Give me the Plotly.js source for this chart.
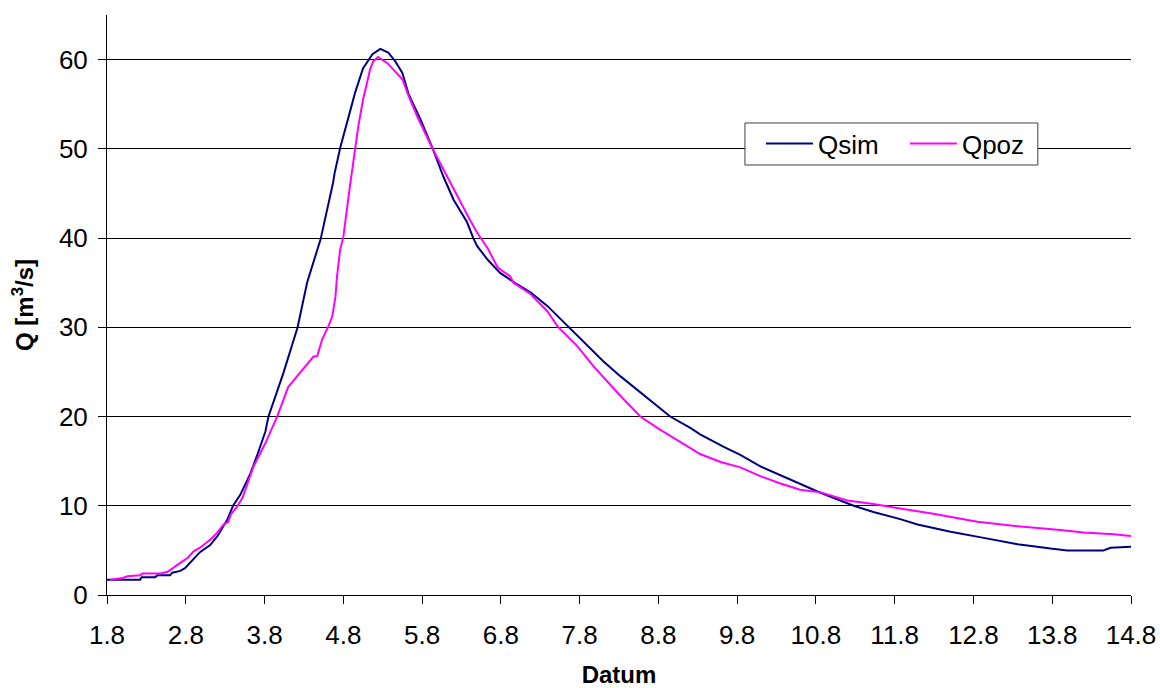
<!DOCTYPE html>
<html>
<head>
<meta charset="utf-8">
<script src="https://cdn.plot.ly/plotly-3.0.1.min.js"></script>
<style>html,body{margin:0;padding:0;background:#fff;}#chart{width:1160px;height:688px;}</style>
</head>
<body>
<div id="chart"></div>
<script>
// x: day of August (1 = "1.8"), Q in m3/s
var tickDays = [1,2,3,4,5,6,7,8,9,10,11,12,13,14];
var tickLabels = ["1.8","2.8","3.8","4.8","5.8","6.8","7.8","8.8","9.8","10.8","11.8","12.8","13.8","14.8"];
var yTicks = [0,10,20,30,40,50,60];

var simDays = [1.00,1.42,1.44,1.61,1.64,1.80,1.83,1.93,1.99,2.10,2.18,2.31,2.41,2.53,2.60,2.69,2.82,2.92,3.01,3.05,3.24,3.42,3.48,3.54,3.67,3.71,3.87,3.89,3.96,4.05,4.15,4.25,4.37,4.47,4.57,4.66,4.75,4.83,4.98,5.14,5.27,5.40,5.57,5.65,5.70,5.83,5.99,6.21,6.38,6.59,6.85,7.05,7.30,7.52,7.73,7.99,8.15,8.41,8.53,8.83,9.04,9.30,9.55,9.80,10.02,10.22,10.48,10.73,10.86,11.07,11.29,11.71,12.13,12.56,12.98,13.19,13.65,13.74,14.00];
var simQ = [1.7,1.7,2.0,2.0,2.2,2.2,2.5,2.7,3.0,4.0,4.8,5.6,6.7,8.5,10.0,11.2,13.6,16.0,18.3,20.0,24.9,30.0,32.7,35.0,38.7,39.8,46.2,47.3,50.1,53.1,56.3,59.0,60.6,61.2,60.8,59.8,58.5,56.1,53.3,49.9,46.9,44.3,41.8,40.0,39.1,37.6,36.1,34.8,33.9,32.4,30.1,28.3,26.2,24.5,23.0,21.1,20.0,18.7,18.0,16.6,15.7,14.4,13.4,12.4,11.6,10.9,10.0,9.3,9.0,8.5,7.9,7.1,6.4,5.7,5.2,5.0,5.0,5.3,5.4];

var pozDays = [1.04,1.20,1.26,1.42,1.45,1.68,1.77,1.84,1.93,2.03,2.10,2.18,2.31,2.41,2.48,2.54,2.57,2.65,2.72,2.86,3.01,3.16,3.30,3.43,3.54,3.62,3.67,3.73,3.81,3.86,3.90,3.92,3.96,4.00,4.09,4.15,4.19,4.25,4.34,4.38,4.44,4.56,4.75,4.83,4.94,5.14,5.32,5.49,5.61,5.70,5.83,5.96,6.12,6.16,6.38,6.59,6.72,6.97,7.18,7.52,7.77,7.99,8.53,8.79,9.04,9.30,9.55,9.80,10.06,10.40,10.73,11.07,11.49,12.05,12.56,13.07,13.40,13.78,14.00];
var pozQ = [1.7,1.9,2.1,2.2,2.4,2.4,2.6,3.0,3.6,4.2,4.9,5.3,6.2,7.1,7.9,8.2,9.0,9.9,10.9,14.4,17.0,20.0,23.3,24.7,25.8,26.7,26.8,28.6,30.1,31.2,33.4,35.7,38.7,40.1,46.2,50.1,52.5,55.5,58.9,59.8,60.3,59.6,57.8,55.9,53.6,49.9,46.9,43.9,42.0,40.6,38.9,36.7,35.7,35.0,33.7,31.8,30.1,27.9,25.6,22.3,20.0,18.7,15.8,14.9,14.3,13.3,12.5,11.8,11.5,10.6,10.2,9.7,9.1,8.2,7.7,7.3,7.0,6.8,6.6];

var font = "Liberation Sans, Arial, sans-serif";
var traces = [
  {x: simDays, y: simQ, type: 'scatter', mode: 'lines', name: 'Qsim',
   line: {color: '#000080', width: 2}},
  {x: pozDays, y: pozQ, type: 'scatter', mode: 'lines', name: 'Qpoz',
   line: {color: '#FF00FF', width: 2}}
];
var layout = {
  width: 1160, height: 688,
  margin: {l: 107, r: 29, t: 15, b: 93},
  paper_bgcolor: '#fff', plot_bgcolor: '#fff',
  font: {family: font, size: 26, color: '#000'},
  showlegend: true,
  legend: {orientation: 'h', x: 0.6386, y: 0.819, xanchor: 'left', yanchor: 'top',
           bgcolor: 'rgba(0,0,0,0)', borderwidth: 0, itemwidth: 47,
           font: {family: font, size: 26, color: '#000'},
           entrywidth: 82, entrywidthmode: 'pixels'},
  shapes: [{type: 'rect', xref: 'paper', yref: 'paper', layer: 'above',
            x0: 0.623, x1: 0.909, y0: 0.7414, y1: 0.8138,
            fillcolor: '#fff', line: {color: '#404040', width: 1}}],
  xaxis: {range: [1, 14], tickvals: tickDays, ticktext: tickLabels,
          showgrid: false, zeroline: false, showline: true, linecolor: '#000', linewidth: 1,
          ticks: 'outside', ticklen: 8, tickcolor: '#000', tickwidth: 1, ticklabelstandoff: 9,
          tickfont: {family: font, size: 26, color: '#000'},
          title: {text: '<b>Datum</b>', font: {family: font, size: 24, color: '#000'}, standoff: 26}},
  yaxis: {range: [0, 65], tickvals: yTicks,
          showgrid: true, gridcolor: '#000', gridwidth: 1, zeroline: false,
          showline: true, linecolor: '#000', linewidth: 1,
          ticks: 'outside', ticklen: 8, tickcolor: '#000', tickwidth: 1, ticklabelstandoff: 5,
          tickfont: {family: font, size: 26, color: '#000'},
          title: {text: '<b>Q [m<sup>3</sup>/s]</b>', font: {family: font, size: 24, color: '#000'}, standoff: 18}}
};
Plotly.newPlot('chart', traces, layout, {displayModeBar: false, staticPlot: true});
</script>
</body>
</html>
